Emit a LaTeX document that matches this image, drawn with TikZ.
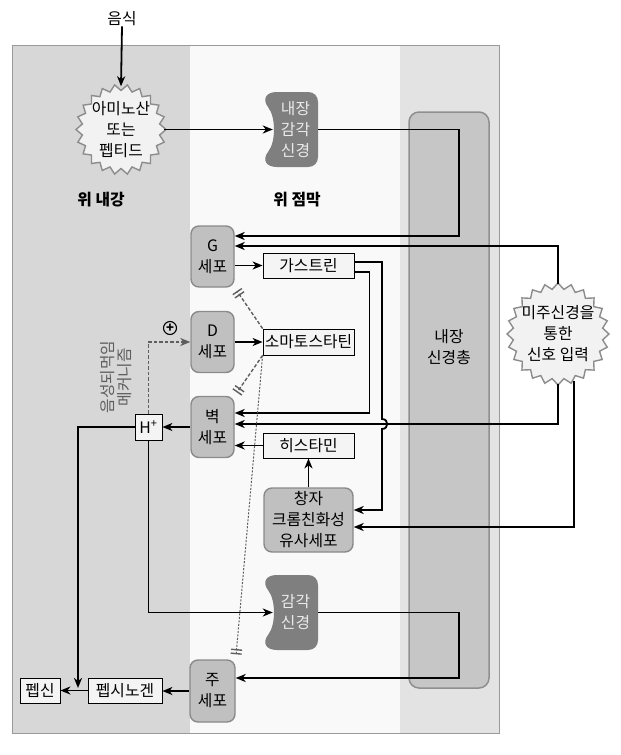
\documentclass[tikz,border=0pt]{standalone}
\usepackage{fontspec}
\setmainfont{Noto Sans CJK KR}
\usepackage{tikz}
\usetikzlibrary{arrows.meta, positioning}

\definecolor{lumen}{HTML}{D7D7D7}
\definecolor{mucosa}{HTML}{F9F9F9}
\definecolor{wall}{HTML}{E3E3E3}
\definecolor{framecol}{HTML}{9A9A9A}
\definecolor{plexus}{HTML}{C6C6C6}
\definecolor{plexusline}{HTML}{8F8F8F}
\definecolor{cellfill}{HTML}{C0C0C0}
\definecolor{cellline}{HTML}{8A8A8A}
\definecolor{nervefill}{HTML}{7F7F7F}
\definecolor{nervetext}{HTML}{EAEAEA}
\definecolor{burstfill}{HTML}{F2F2F2}
\definecolor{burstline}{HTML}{8C8C8C}
\definecolor{boxfill}{HTML}{F4F4F4}
\definecolor{dashcol}{HTML}{5E5E5E}

\begin{document}
\begin{tikzpicture}[x=1pt, y=-1pt,
  every node/.style={font=\fontsize{15.8}{21}\selectfont, inner sep=0pt},
  cellbox/.style={draw=cellline, fill=cellfill, line width=1.4pt, rounded corners=8pt, minimum width=43pt, minimum height=61pt, align=center},
  labelbox/.style={draw, fill=boxfill, line width=0.8pt, minimum width=91pt, minimum height=25pt},
  burst/.style={draw=burstline, fill=burstfill, line width=1.4pt},
  bursttext/.style={circle, align=center},
  nervetxt/.style={text=nervetext, align=center, minimum width=45pt},
  zonelabel/.style={font=\fontsize{15.8}{21}\selectfont\bfseries},
  link/.style={line width=1.8pt},
  arr/.style={link, -{Stealth[length=10pt, width=8pt, inset=3pt]}},
  feedback/.style={dashcol, line width=1.5pt, dash pattern=on 3.5pt off 2pt, -{Stealth[length=10pt, width=8pt, inset=3pt]}},
  inhib/.style={dashcol, line width=1.4pt, dash pattern=on 3.5pt off 2pt, shorten >=4pt, -{Bar[width=11pt, line width=1.4pt, sep=2.5pt]Bar[width=11pt, line width=1.4pt]}}
]
\useasboundingbox (0,0) rectangle (621,755);

% zones of the stomach wall
\fill[lumen] (12,45) rectangle (190,733);
\fill[mucosa] (190,45) rectangle (400,733);
\fill[wall] (400,45) rectangle (499,733);
\draw[framecol, line width=1pt] (12,45) rectangle (499,733);
\filldraw[fill=plexus, draw=plexusline, line width=1.5pt, rounded corners=10pt] (409,112) rectangle (489,688);

% sensory nerve endings
\foreach \dy in {0,483} {
  \fill[nervefill, shift={(0,\dy)}] (277,92) -- (308,92) .. controls (314,92) and (318,96) .. (318,102)
    -- (318,157) .. controls (318,163) and (314,167) .. (308,167) -- (277,167)
    .. controls (266,167) and (262,160) .. (268,152) .. controls (276,142) and (276,117) .. (268,107)
    .. controls (262,99) and (266,92) .. (277,92) -- cycle;
}

% starbursts
\foreach \cx/\cy/\R/\r/\n in {121/129.5/45/39/22, 558/334/51/45/24} {
  \pgfmathtruncatemacro\m{2*\n-1}
  \draw[burst, shift={(\cx,\cy)}] (0:\R) \foreach \k in {1,...,\m} {-- ({\k*180/\n}:{ifthenelse(mod(\k,2)==0,\R,\r)})} -- cycle;
}

% nodes
\node (food) at (122,19) {음식};
\node[bursttext, minimum size=86pt] (peptide) at (121,129.5) {아미노산\\또는\\펩티드};
\node[bursttext, minimum size=100pt] (vagus) at (558,334) {미주신경을\\통한\\신호 입력};
\node[nervetxt] (vnerve) at (295.5,129.5) {내장\\감각\\신경};
\node[nervetxt] (snerve) at (295.5,612.5) {감각\\신경};
\node[zonelabel] (lumenlbl) at (101,200) {위 내강};
\node[zonelabel] (mucosalbl) at (297,200) {위 점막};
\node[align=center] (plexuslbl) at (449,347) {내장\\신경총};

\node[cellbox] (gcell) at (212.5,256.5) {G\\세포};
\node[cellbox] (dcell) at (212.5,342) {D\\세포};
\node[cellbox] (pcell) at (212.5,427) {벽\\세포};
\node[cellbox, minimum width=45pt, minimum height=62pt] (chief) at (212.5,691) {주\\세포};
\node[cellbox, minimum width=89pt, minimum height=64pt] (ecl) at (308.5,520) {창자\\크롬친화성\\유사세포};

\node[labelbox] (gastrin) at (308.5,265.5) {가스트린};
\node[labelbox, minimum height=26pt] (somato) at (308.5,342) {소마토스타틴};
\node[labelbox] (hist) at (308.5,445.5) {히스타민};
\node[labelbox, minimum width=27pt, minimum height=26pt] (hplus) at (148.5,427) {H\textsuperscript{+}};
\node[labelbox, minimum width=74pt] (pepsinogen) at (125,690.5) {펩시노겐};
\node[labelbox, minimum width=40pt] (pepsin) at (40,690.5) {펩신};

\node[text=dashcol, rotate=90, align=center, font=\fontsize{15.8}{17}\selectfont] (loop) at (116.5,377) {음성되먹임\\메커니즘};
\node[circle, draw, line width=1.1pt, minimum size=13pt, font=\fontsize{13}{13}\selectfont\bfseries] (plus) at (170,328) {+};
\coordinate (act) at (78,688);

% connectors
\draw[arr] (food.south) -- (peptide.north);
\draw[arr] (peptide.east) -- (vnerve.west);
\draw[arr] (vnerve.east) -- ++(141,0) |- ([yshift=20.5pt]gcell.east);
\draw[arr] (vagus.north) |- ([yshift=10.5pt]gcell.east);
\draw[arr] (gcell.east |- gastrin) -- (gastrin.west);
\draw[arr] ([yshift=3.5pt]gastrin.east) -| (382,419) .. controls (389,419) and (389,429) .. (382,429) |- ([yshift=10pt]ecl.east);
\draw[arr] ([yshift=-6.5pt]gastrin.east) -- ++(15,0) |- ([yshift=14pt]pcell.east);
\draw[arr] (vagus.south) |- ([yshift=3pt]pcell.east);
\draw[arr] (vagus.-71) |- ([yshift=-7pt]ecl.east);
\draw[arr] (hist.west) -- (pcell.east |- hist.west);
\draw[arr] (ecl.north) -- (hist.south);
\draw[arr] (dcell.east) -- (somato.west);
\draw[inhib] (somato.north west) -- (gcell.south east);
\draw[inhib] (somato.south west) -- (pcell.north east);
\draw[inhib, line width=1pt, dash pattern=on 2pt off 1.5pt, shorten >=5pt] (somato.south west) -- (chief.north east);
\draw[arr] (pcell.west) -- (hplus.east);
\draw[feedback] (hplus.north) |- (dcell.west);
\draw[arr] (hplus.west) -| (act);
\draw[arr] (hplus.south) |- (snerve.west);
\draw[arr] (snerve.east) -- ++(141,0) |- ([yshift=13pt]chief.east);
\draw[arr] (chief.west) -- (chief.west -| pepsinogen.east);
\draw[arr] (pepsinogen.west) -- (pepsin.east);
\end{tikzpicture}
\end{document}
